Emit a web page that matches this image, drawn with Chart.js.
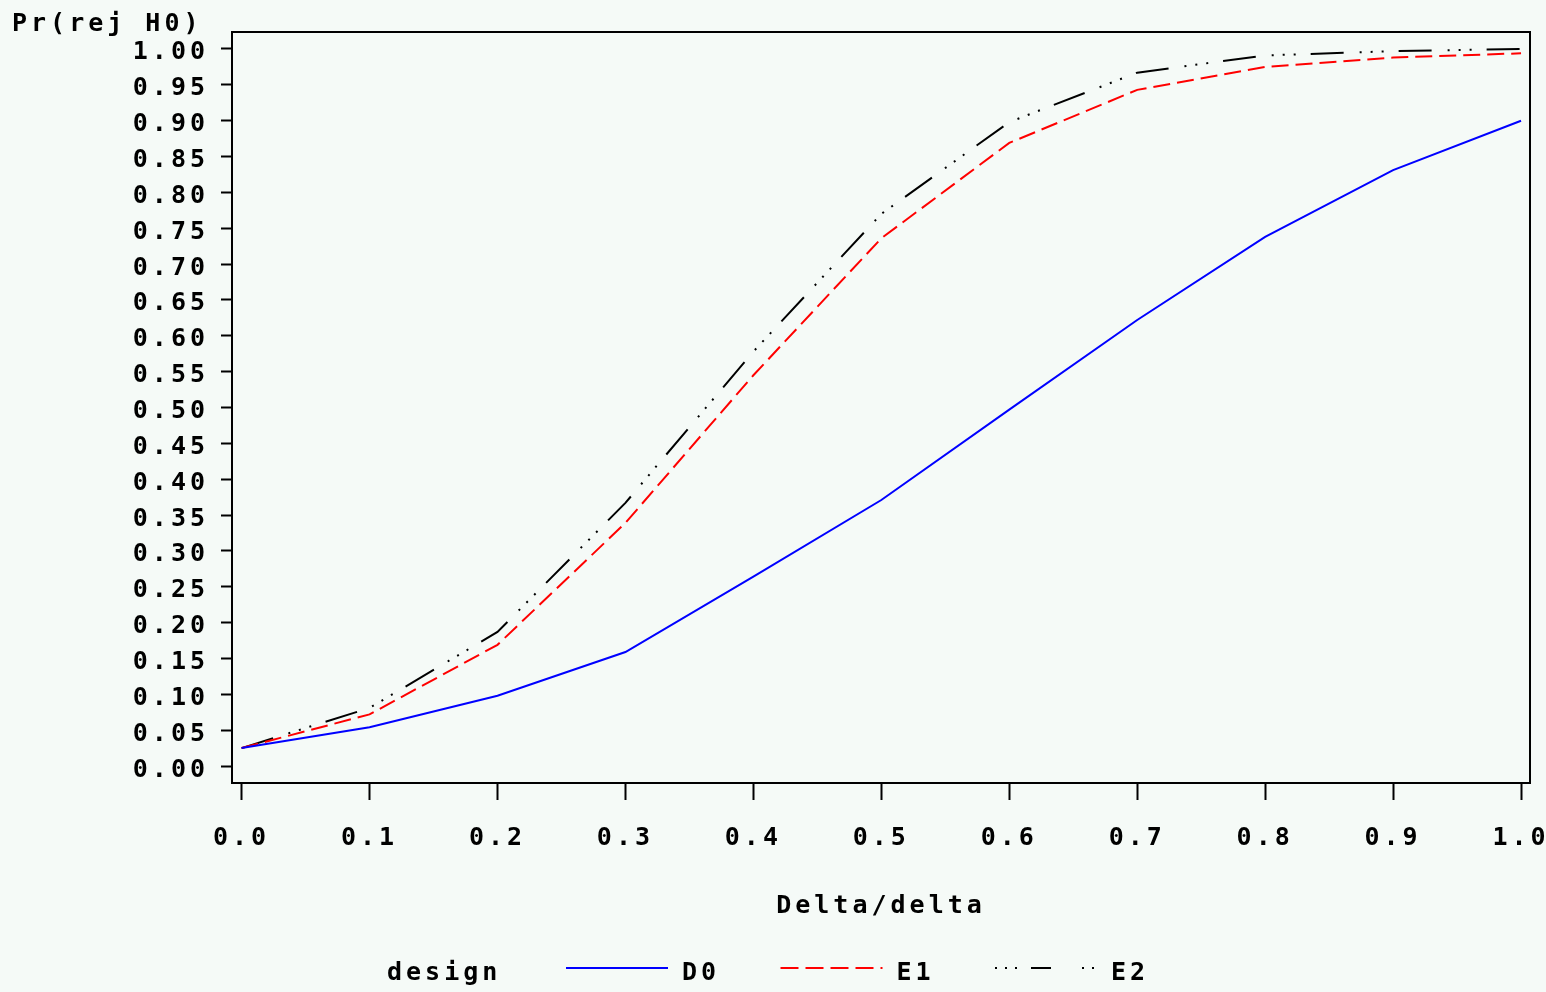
<!DOCTYPE html>
<html>
<head>
<meta charset="utf-8">
<title>Pr(rej H0) by Delta/delta</title>
<script src="https://cdn.jsdelivr.net/npm/chart.js@4.4.0/dist/chart.umd.min.js"></script>
<style>
  html, body { margin: 0; padding: 0; background: #f5faf7; }
  #wrap { width: 1546px; height: 992px; position: relative; }
</style>
</head>
<body>
<div id="wrap"><canvas id="powerChart"></canvas></div>
<script>
// values
const deltaRatio = [0.0, 0.1, 0.2, 0.3, 0.4, 0.5, 0.6, 0.7, 0.8, 0.9, 1.0];
const powerD0 = [0.025, 0.054, 0.098, 0.159, 0.264, 0.371, 0.497, 0.622, 0.738, 0.831, 0.900];
const powerE1 = [0.025, 0.072, 0.169, 0.339, 0.545, 0.736, 0.869, 0.943, 0.975, 0.988, 0.994];
const powerE2 = [0.025, 0.081, 0.187, 0.367, 0.578, 0.770, 0.898, 0.967, 0.991, 0.997, 1.000];
const seriesNames = ['D0', 'E1', 'E2'];

const xTickLabels = ['0.0', '0.1', '0.2', '0.3', '0.4', '0.5', '0.6', '0.7', '0.8', '0.9', '1.0'];
const yTickLabels = ['0.00', '0.05', '0.10', '0.15', '0.20', '0.25', '0.30', '0.35', '0.40', '0.45', '0.50',
                     '0.55', '0.60', '0.65', '0.70', '0.75', '0.80', '0.85', '0.90', '0.95', '1.00'];

const FONT = { family: 'DejaVu Sans Mono', size: 25, weight: 'bold', lineHeight: 1.2 };
const FONT_STR = 'bold 25px "DejaVu Sans Mono"';
const SPACING = '4px';

function points(ys) {
    return deltaRatio.map((d, i) => ({ x: d, y: ys[i] }));
}

// SAS-ish frame, top-left y label and the legend row
const sasLook = {
    id: 'sasLook',
    beforeLayout(chart) {
        chart.ctx.letterSpacing = SPACING;
    },
    beforeDraw(chart) {
        chart.ctx.letterSpacing = SPACING;
    },
    afterDraw(chart) {
        const ctx = chart.ctx;
        const a = chart.chartArea;
        ctx.save();
        ctx.strokeStyle = '#000';
        ctx.lineWidth = 2;
        ctx.strokeRect(a.left, a.top, a.right - a.left, a.bottom - a.top);

        ctx.fillStyle = '#000';
        ctx.font = FONT_STR;
        ctx.letterSpacing = SPACING;
        ctx.textAlign = 'left';
        ctx.textBaseline = 'alphabetic';
        ctx.fillText('Pr(rej H0)', 12, 31);

        ctx.textBaseline = 'middle';
        ctx.fillText('design', 387, 973);
        chart.data.datasets.forEach((ds, i) => {
            const x0 = 566 + i * 214.5;
            ctx.save();
            ctx.strokeStyle = ds.borderColor;
            ctx.lineWidth = ds.borderWidth;
            ctx.setLineDash(ds.legendDash || []);
            ctx.beginPath();
            ctx.moveTo(x0, 968);
            ctx.lineTo(x0 + 102, 968);
            ctx.stroke();
            ctx.restore();
            ctx.fillText(ds.label, x0 + 116, 973);
        });
        ctx.restore();
    }
};

new Chart(document.getElementById('powerChart'), {
    type: 'line',
    data: {
        datasets: [
            { label: seriesNames[0], data: points(powerD0), borderColor: '#0000ff', borderWidth: 2,
              borderDash: [], legendDash: [] },
            { label: seriesNames[1], data: points(powerE1), borderColor: '#ff0000', borderWidth: 2,
              borderDash: [17, 7], legendDash: [18, 7] },
            { label: seriesNames[2], data: points(powerE2), borderColor: '#000000', borderWidth: 2,
              borderDash: [33, 16, 2, 9, 2, 9, 2, 15], legendDash: [2, 8, 2, 8, 2, 14, 20, 31, 2, 8, 2, 20] }
        ]
    },
    options: {
        responsive: true,
        maintainAspectRatio: false,
        animation: false,
        events: [],
        layout: { padding: { top: 32, right: 16, bottom: 71, left: 0 } },
        elements: {
            point: { radius: 0 },
            line: { tension: 0, fill: false }
        },
        plugins: {
            legend: { display: false },
            tooltip: { enabled: false },
            title: { display: false }
        },
        scales: {
            x: {
                type: 'linear',
                min: -0.0075,
                max: 1.007,
                border: { display: false },
                grid: { drawOnChartArea: false, drawTicks: true, tickLength: 17, tickWidth: 2, tickColor: '#000' },
                afterBuildTicks(scale) {
                    scale.ticks = xTickLabels.map(t => ({ value: parseFloat(t) }));
                },
                afterFit(scale) {
                    scale.paddingLeft = 0;
                    scale.paddingRight = 0;
                },
                ticks: {
                    color: '#000',
                    font: FONT,
                    padding: 23,
                    maxRotation: 0,
                    autoSkip: false,
                    callback: (v, i) => xTickLabels[i]
                },
                title: {
                    display: true,
                    text: 'Delta/delta',
                    color: '#000',
                    font: FONT,
                    padding: { top: 15, bottom: 0 }
                }
            },
            y: {
                type: 'linear',
                min: -0.0237,
                max: 1.0237,
                border: { display: false },
                grid: { drawOnChartArea: false, drawTicks: true, tickLength: 11, tickWidth: 2, tickColor: '#000' },
                afterBuildTicks(scale) {
                    scale.ticks = yTickLabels.map(t => ({ value: parseFloat(t) }));
                },
                afterFit(scale) {
                    scale.width = 232;
                },
                ticks: {
                    color: '#000',
                    font: FONT,
                    padding: 12,
                    labelOffset: 4,
                    autoSkip: false,
                    callback: (v, i) => yTickLabels[i]
                }
            }
        }
    },
    plugins: [sasLook]
});
</script>
</body>
</html>
